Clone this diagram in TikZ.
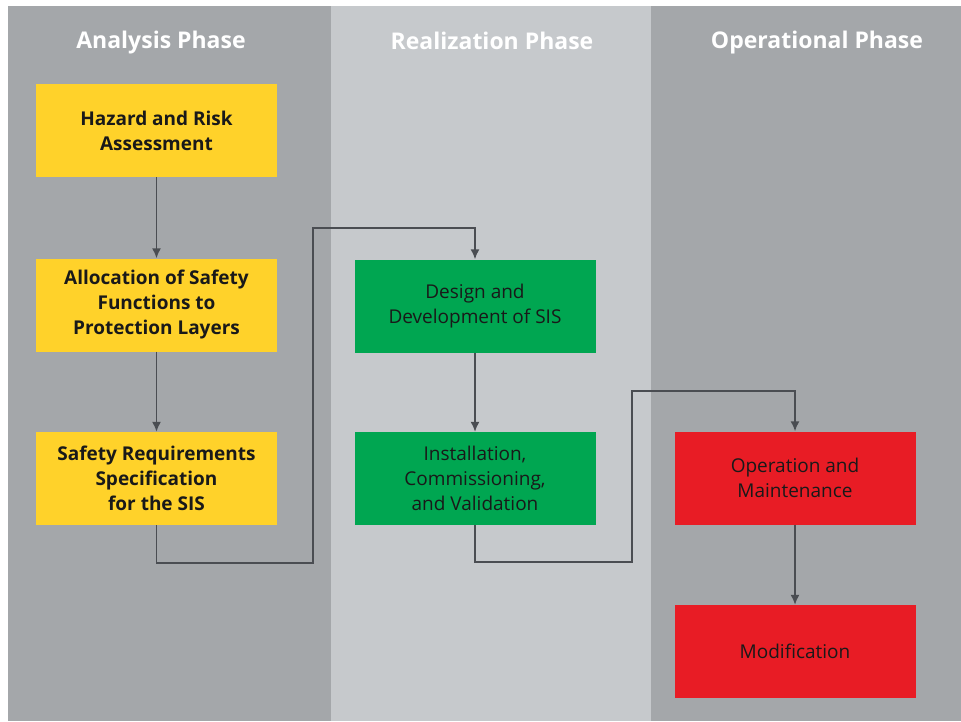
\documentclass[tikz,border=0pt]{standalone}
\usepackage{fontspec}
\setmainfont{Open Sans}
\usetikzlibrary{positioning, arrows.meta}

\definecolor{darkgray}{HTML}{A4A7AA}
\definecolor{lightgray}{HTML}{C6C9CC}
\definecolor{sisyellow}{HTML}{FFD22A}
\definecolor{sisgreen}{HTML}{00A651}
\definecolor{sisred}{HTML}{E81C25}
\definecolor{linegray}{HTML}{4A4D52}

\begin{document}
\begin{tikzpicture}[x=1pt, y=-1pt, >={Latex[length=10pt,width=9pt]},
    box/.style={rectangle, minimum width=241pt, minimum height=93pt, align=center, text=black!90, font=\fontsize{19}{25}\selectfont},
    boldbox/.style={box, fill=sisyellow, font=\bfseries\fontsize{19}{25}\selectfont},
    title/.style={text=white, anchor=base, font=\bfseries\fontsize{23}{26}\selectfont},
    link/.style={draw=linegray, line width=1.6pt}]

    % Background
    \useasboundingbox (0,0) rectangle (961,721);
    \fill[white] (0,0) rectangle (961,721);
    \fill[darkgray] (8,6) rectangle (331,721);
    \fill[lightgray] (331,6) rectangle (651,721);
    \fill[darkgray] (651,6) rectangle (961,721);

    % Titles
    \node (analysis) [title] at (161,48) {Analysis Phase};
    \node (realization) [title] at (492,49) {Realization Phase};
    \node (operational) [title] at (817,48) {Operational Phase};

    % Nodes
    \node (hazard) [boldbox] at (156.5,130.5) {Hazard and Risk\\Assessment};
    \node (allocation) [boldbox] at (156.5,305) {Allocation of Safety\\Functions to\\Protection Layers};
    \node (requirements) [boldbox] at (156.5,478.5) {Safety Requirements\\Specification\\for the SIS};
    \node (design) [box, fill=sisgreen] at (475,306) {Design and\\Development of SIS};
    \node (installation) [box, fill=sisgreen] at (475,478.5) {Installation,\\Commissioning,\\and Validation};
    \node (operation) [box, fill=sisred] at (795,478) {Operation and\\Maintenance};
    \node (modification) [box, fill=sisred] at (795,651.5) {Modification};

    % Bends
    \coordinate (low1) at (313,563);
    \coordinate (high1) at (313,228);
    \coordinate (low2) at (632,562);
    \coordinate (high2) at (632,391);

    % Arrows
    \draw [link, ->] (hazard) -- (allocation);
    \draw [link, ->] (allocation) -- (requirements);
    \draw [link, ->] (requirements.south) |- (low1) -- (high1) -| (design.north);
    \draw [link, ->] (design) -- (installation);
    \draw [link, ->] (installation.south) |- (low2) -- (high2) -| (operation.north);
    \draw [link, ->] (operation) -- (modification);

\end{tikzpicture}
\end{document}
